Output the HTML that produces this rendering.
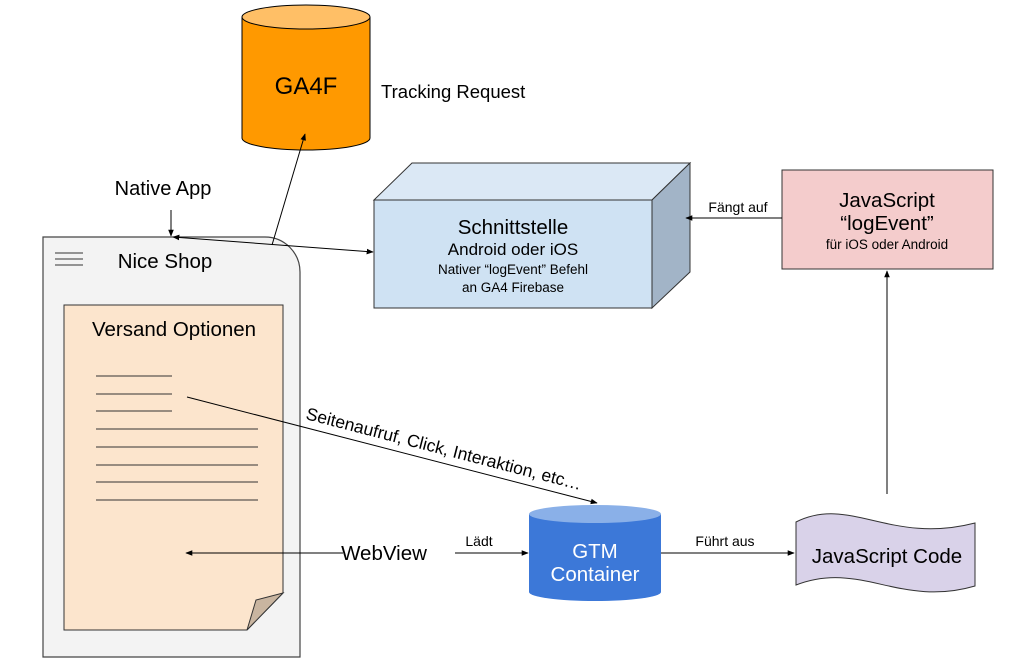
<!DOCTYPE html>
<html><head><meta charset="utf-8"><style>
body{margin:0;background:#fff}
svg text{font-family:"Liberation Sans",Arial,sans-serif;fill:#000}
</style></head><body>
<svg width="1024" height="664" viewBox="0 0 1024 664" xmlns="http://www.w3.org/2000/svg">
<defs>
<marker id="a" viewBox="0 0 10 10" refX="9" refY="5" markerWidth="7" markerHeight="7" orient="auto-start-reverse"><path d="M0,1 L10,5 L0,9 z" fill="#000"/></marker>
</defs>
<path d="M242,17 L242,138 A64,12 0 0 0 370,138 L370,17" fill="#ff9900" stroke="#000" stroke-width="1"/>
<ellipse cx="306" cy="17" rx="64" ry="12" fill="#ffbf66" stroke="#000" stroke-width="1"/>
<text x="306" y="94" font-size="24" text-anchor="middle">GA4F</text>
<text x="381" y="98" font-size="18.5">Tracking Request</text>
<path d="M43,237 L265,237 A35,35 0 0 1 300,272 L300,657 L43,657 Z" fill="#f3f3f3" stroke="#444" stroke-width="1.2"/>
<g stroke="#333" stroke-width="1"><line x1="55" y1="253" x2="83" y2="253"/><line x1="55" y1="259" x2="83" y2="259"/><line x1="55" y1="265" x2="83" y2="265"/></g>
<text x="165" y="268" font-size="20.5" text-anchor="middle">Nice Shop</text>
<path d="M64,305 L283,305 L283,593 L247,630 L64,630 Z" fill="#fce5cd" stroke="#333" stroke-width="1"/>
<path d="M283,593 L256,600 L247,630 Z" fill="#c9b5a0" stroke="#333" stroke-width="1"/>
<text x="174" y="336" font-size="20.5" text-anchor="middle">Versand Optionen</text>
<g stroke="#333" stroke-width="1">
<line x1="96" y1="376" x2="172" y2="376"/><line x1="96" y1="394" x2="172" y2="394"/><line x1="96" y1="411" x2="172" y2="411"/>
<line x1="96" y1="429" x2="258" y2="429"/><line x1="96" y1="447" x2="258" y2="447"/><line x1="96" y1="465" x2="258" y2="465"/><line x1="96" y1="482" x2="258" y2="482"/><line x1="96" y1="500" x2="258" y2="500"/>
</g>
<text x="163" y="195" font-size="20" text-anchor="middle">Native App</text>
<path d="M374,200 L412,163 L690,163 L652,200 Z" fill="#dbe8f5" stroke="#333"/>
<path d="M652,200 L690,163 L690,272 L652,308 Z" fill="#a2b4c7" stroke="#333"/>
<rect x="374" y="200" width="278" height="108" fill="#cfe2f3" stroke="#333"/>
<text x="513" y="234" font-size="20.5" text-anchor="middle">Schnittstelle</text>
<text x="513" y="255" font-size="17" text-anchor="middle">Android oder iOS</text>
<text x="513" y="274" font-size="13.5" text-anchor="middle">Nativer “logEvent” Befehl</text>
<text x="513" y="292" font-size="13.5" text-anchor="middle">an GA4 Firebase</text>
<rect x="782" y="170" width="211" height="99" fill="#f4cccc" stroke="#333"/>
<text x="887" y="207" font-size="20.5" text-anchor="middle">JavaScript</text>
<text x="887" y="230" font-size="20.5" text-anchor="middle">“logEvent”</text>
<text x="887" y="249" font-size="13.5" text-anchor="middle">für iOS oder Android</text>
<text x="738" y="212" font-size="14" text-anchor="middle">Fängt auf</text>
<path d="M529,514 L529,592 A66,9 0 0 0 661,592 L661,514" fill="#3c78d8"/>
<ellipse cx="595" cy="514" rx="66" ry="9" fill="#8ab0e8"/>
<text x="595" y="558" font-size="20.5" text-anchor="middle" style="fill:#fff">GTM</text>
<text x="595" y="581" font-size="20.5" text-anchor="middle" style="fill:#fff">Container</text>
<path d="M796,522 C850,495 890,545 975,523 L975,586 C900,608 860,560 796,585 Z" fill="#d9d2e9" stroke="#333"/>
<text x="887" y="563" font-size="20.5" text-anchor="middle">JavaScript Code</text>
<text x="384" y="560" font-size="20.5" text-anchor="middle">WebView</text>
<text x="479" y="546" font-size="14" text-anchor="middle">Lädt</text>
<text x="725" y="546" font-size="14" text-anchor="middle">Führt aus</text>
<text transform="translate(305,419) rotate(14.5)" font-size="17.5">Seitenaufruf, Click, Interaktion, etc…</text>
<g stroke="#000" stroke-width="1" fill="none">
<line x1="171" y1="210" x2="171" y2="236" marker-end="url(#a)"/>
<line x1="173" y1="237" x2="373" y2="252" marker-start="url(#a)" marker-end="url(#a)"/>
<line x1="272" y1="245" x2="305" y2="134" marker-end="url(#a)"/>
<line x1="782" y1="218" x2="686" y2="218" marker-end="url(#a)"/>
<line x1="887" y1="494" x2="887" y2="271" marker-end="url(#a)"/>
<line x1="187" y1="397" x2="597" y2="503" marker-end="url(#a)"/>
<line x1="343" y1="553" x2="186" y2="553" marker-end="url(#a)"/>
<line x1="455" y1="553" x2="528" y2="553" marker-end="url(#a)"/>
<line x1="661" y1="553" x2="794" y2="553" marker-end="url(#a)"/>
</g>
</svg>
</body></html>
